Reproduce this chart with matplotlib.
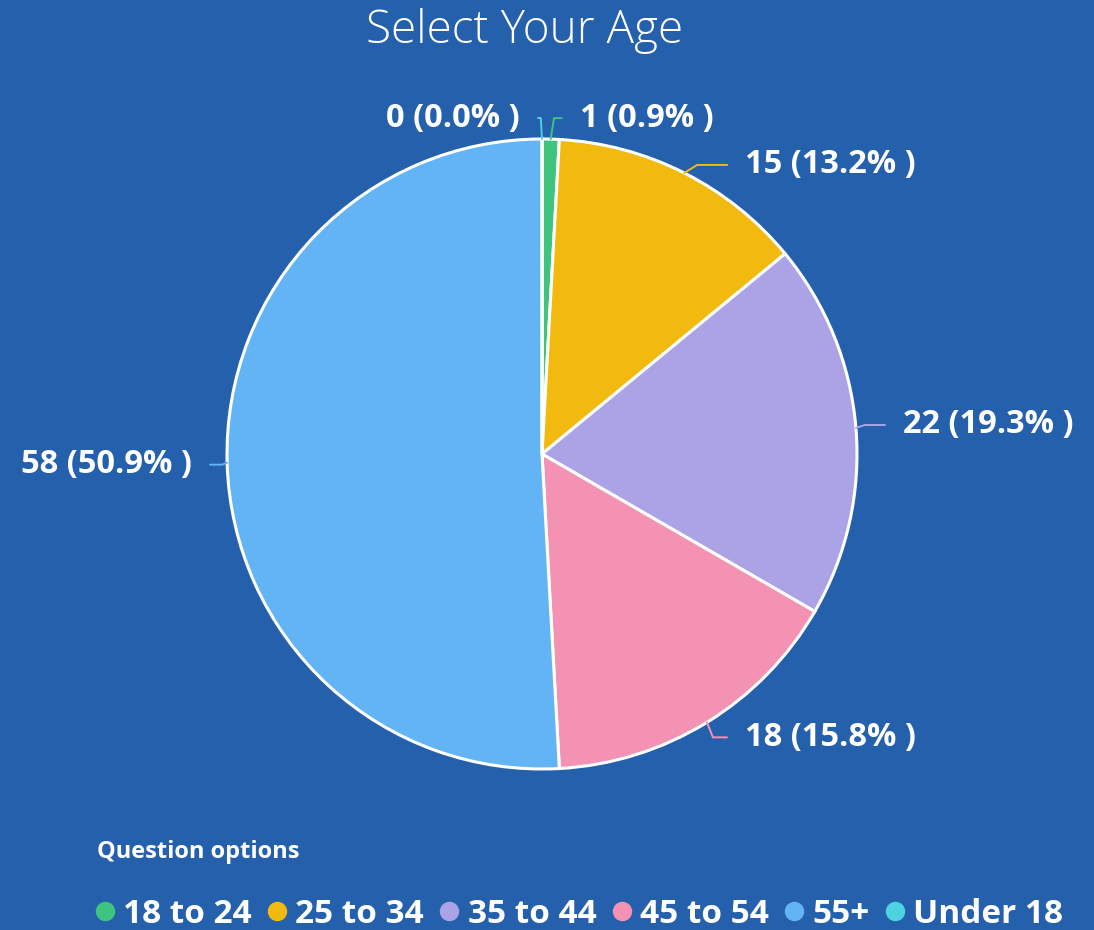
import matplotlib
matplotlib.use("Agg")
import matplotlib.pyplot as plt
from matplotlib.lines import Line2D
import numpy as np

plt.rcParams['font.family'] = ['Open Sans', 'DejaVu Sans']

title = "Select Your Age"
categories = ["18 to 24", "25 to 34", "35 to 44", "45 to 54", "55+", "Under 18"]
counts = [1, 15, 22, 18, 58, 0]
colors = ["#3FC47F", "#F2B90F", "#ABA3E6", "#F492B4", "#63B4F5", "#4DD2E0"]
legend_title = "Question options"

BG = "#2460AB"
W, H = 1094, 930
fig = plt.figure(figsize=(W / 100, H / 100), dpi=100, facecolor=BG)
ax = fig.add_axes([0, 0, 1, 1], facecolor=BG)
ax.set_xlim(0, W)
ax.set_ylim(H, 0)
ax.set_aspect('equal')
ax.axis('off')

cx, cy, R = 542, 454, 315
wedges, _ = ax.pie(counts, colors=colors, center=(cx, cy), radius=R,
                   startangle=-90, counterclock=True,
                   wedgeprops=dict(edgecolor='white', linewidth=2.2))
ax.set_xlim(0, W)
ax.set_ylim(H, 0)

total = sum(counts)
# layout: text offset (dx, dy) in pixels from the wedge edge midpoint
offsets = [(29, -21), (61, -8), (47, -3), (38, 15), (-35, 2), (-22, -21)]
for w, c, col, (dx, dy) in zip(wedges, counts, colors, offsets):
    th = np.deg2rad((w.theta1 + w.theta2) / 2)
    px, py = cx + R * np.cos(th), cy + R * np.sin(th)
    tx, ty = px + dx, py + dy
    s = 1 if dx > 0 else -1
    end = tx - s * 18
    elbow = px + 0.3 * (end - px)
    ax.plot([px, elbow, end], [py, ty, ty], color=col, lw=1.4, solid_capstyle='round')
    ax.text(tx, ty, f"{c} ({100 * c / total:.1f}% )", color='white',
            fontsize=23.5, fontweight='bold', ha='left' if s > 0 else 'right',
            va='center')

fig.text(525 / W, 1 - 31 / H, title, color='white', fontsize=33,
         fontweight='light', ha='center', va='center')
fig.text(97 / W, 1 - 852 / H, legend_title, color='white', fontsize=17,
         fontweight='bold', ha='left', va='center')

handles = [Line2D([], [], ls='none', marker='o', markersize=13,
                  markerfacecolor=col, markeredgecolor=col) for col in colors]
leg = fig.legend(handles, categories, loc='center left',
                 bbox_to_anchor=(88 / W, 1 - 914 / H), ncol=6, frameon=False,
                 handletextpad=0.05, columnspacing=0.26, handlelength=1.0,
                 borderaxespad=0, borderpad=0,
                 prop=dict(family='Open Sans', weight='bold', size=24))
for t in leg.get_texts():
    t.set_color('white')

fig.savefig("out.png", dpi=100, facecolor=BG)
